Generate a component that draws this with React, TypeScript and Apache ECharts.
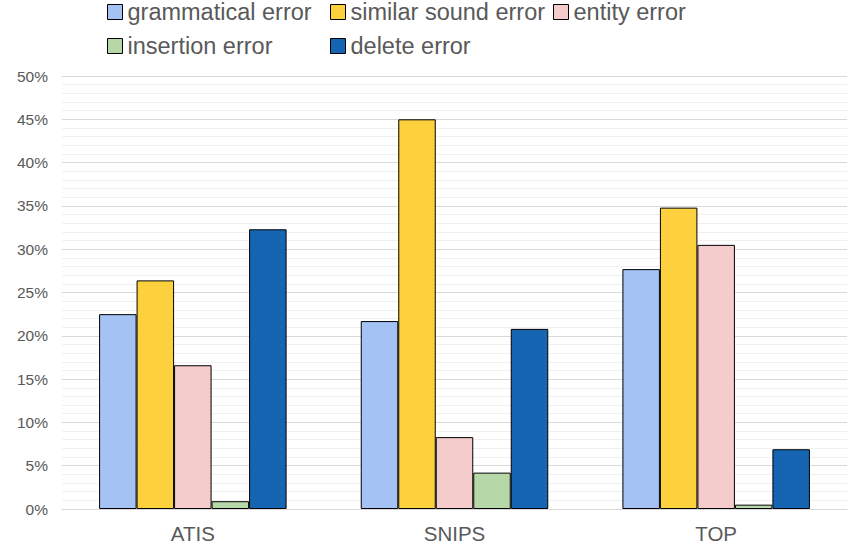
import React, { useEffect, useRef } from "react";
import * as echarts from "echarts";

const categories = ["ATIS", "SNIPS", "TOP"];
const seriesNames = [
  "grammatical error",
  "similar sound error",
  "entity error",
  "insertion error",
  "delete error",
];
const grammatical = [22.5, 21.7, 27.7];
const similarSound = [26.4, 45.0, 34.8];
const entity = [16.6, 8.3, 30.5];
const insertion = [0.9, 4.2, 0.5];
const deleteErr = [32.3, 20.8, 6.9];
const colors = ["#A4C2F4", "#FDD13E", "#F4CCCC", "#B6D7A8", "#1565B3"];

const legendPos = [
  { left: 107, top: 0 },
  { left: 330, top: 0 },
  { left: 553, top: 0 },
  { left: 107, top: 34 },
  { left: 330, top: 34 },
];

export default function App() {
  const ref = useRef<HTMLDivElement>(null);
  useEffect(() => {
    document.body.style.margin = "0";
    if (!ref.current) return;
    const chart = echarts.init(ref.current, null, { renderer: "svg" });
    const values = [grammatical, similarSound, entity, insertion, deleteErr];
    chart.setOption({
      animation: false,
      textStyle: { fontFamily: "Liberation Sans, Arial, sans-serif" },
      legend: seriesNames.map((n, i) => ({
        data: [{ name: n, icon: "rect" }],
        left: legendPos[i].left,
        top: legendPos[i].top,
        itemWidth: 15,
        itemHeight: 15,
        itemGap: 0,
        padding: 0,
        selectedMode: false,
        itemStyle: { borderColor: "#000000", borderWidth: 1 },
        textStyle: {
          fontSize: 23.5,
          color: "#595959",
          fontFamily: "Liberation Sans, Arial, sans-serif",
        },
      })),
      grid: { left: 62, right: 17, top: 76, bottom: 44, containLabel: false },
      xAxis: {
        type: "category",
        data: categories,
        axisLine: { lineStyle: { color: "#D9D9D9", width: 1 } },
        axisTick: { show: false },
        axisLabel: { fontSize: 20.5, color: "#595959", margin: 14 },
      },
      yAxis: {
        type: "value",
        min: 0,
        max: 50,
        interval: 5,
        axisLabel: {
          formatter: "{value}%",
          fontSize: 15.5,
          color: "#595959",
          margin: 14,
        },
        axisLine: { show: false },
        axisTick: { show: false },
        splitLine: { lineStyle: { color: "#D9D9D9", width: 1 } },
        minorTick: { show: false, splitNumber: 5 },
        minorSplitLine: { show: true, lineStyle: { color: "#F0F0F0", width: 1 } },
      },
      series: seriesNames.map((n, i) => ({
        name: n,
        type: "bar",
        data: values[i],
        barWidth: 37.5,
        barGap: "0%",
        itemStyle: { color: colors[i], borderColor: "#000000", borderWidth: 1 },
      })),
    });
    return () => chart.dispose();
  }, []);
  return <div ref={ref} style={{ width: 864, height: 553 }} />;
}
